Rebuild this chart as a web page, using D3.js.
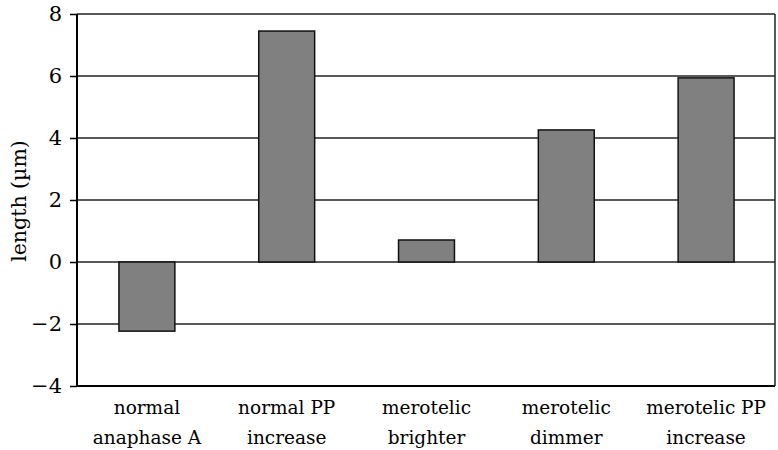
<!DOCTYPE html>
<html><head><meta charset="utf-8">
<script src="https://cdn.jsdelivr.net/npm/d3@7"></script>
<style>body{margin:0;background:#fff}svg{display:block}</style>
</head><body>
<script>
const categories = [["normal","anaphase A"],["normal PP","increase"],["merotelic","brighter"],["merotelic","dimmer"],["merotelic PP","increase"]];
const values = [-2.23, 7.45, 0.71, 4.26, 5.94];
const yTicks = [-4,-2,0,2,4,6,8];
const yLabel = "length (\u00b5m)";

const W = 778, H = 450;
const m = {left: 77, right: 2, top: 14, bottom: 64};
const font = "DejaVu Serif";
const svg = d3.select("body").append("svg").attr("width", W).attr("height", H)
  .attr("font-family", font);

const x = d3.scaleBand().domain(d3.range(categories.length)).range([m.left, W - m.right]).paddingInner(0.6).paddingOuter(0.3);
const y = d3.scaleLinear().domain([-4, 8]).range([H - m.bottom, m.top]);

svg.append("g").selectAll("line").data(yTicks.filter(t => t !== -4)).join("line")
  .attr("x1", m.left).attr("x2", W - m.right - 1)
  .attr("y1", d => y(d)).attr("y2", d => y(d))
  .attr("stroke", "#222").attr("stroke-width", 1.5);

svg.append("line").attr("x1", W - m.right - 1).attr("x2", W - m.right - 1)
  .attr("y1", y(8)).attr("y2", y(-4)).attr("stroke", "#222").attr("stroke-width", 1.5);

svg.append("g").selectAll("rect").data(values).join("rect")
  .attr("x", (d, i) => x(i))
  .attr("width", x.bandwidth())
  .attr("y", d => y(Math.max(0, d)))
  .attr("height", d => Math.abs(y(d) - y(0)))
  .attr("fill", "#808080").attr("stroke", "#111").attr("stroke-width", 1.5);

const yAxis = d3.axisLeft(y).tickValues(yTicks).tickSize(7).tickPadding(8)
  .tickFormat(d => d < 0 ? "\u2212" + Math.abs(d) : String(d));
const gy = svg.append("g").attr("transform", `translate(${m.left},0)`).call(yAxis)
  .attr("font-family", font).attr("font-size", 21);
gy.select(".domain").attr("stroke", "#000").attr("stroke-width", 2).attr("d", `M0,${y(8)}V${y(-4)}`);
gy.selectAll(".tick line").attr("stroke", "#000").attr("stroke-width", 1.5);
gy.selectAll("text").attr("fill", "#000");

svg.append("line").attr("x1", m.left).attr("x2", W - m.right - 1)
  .attr("y1", y(-4)).attr("y2", y(-4)).attr("stroke", "#000").attr("stroke-width", 2);

const xl = svg.append("g").attr("font-family", font).attr("font-size", 18.5)
  .selectAll("text").data(categories).join("text")
  .attr("fill", "#000")
  .attr("text-anchor", "middle")
  .attr("transform", (d, i) => `translate(${x(i) + x.bandwidth() / 2},0)`);
xl.selectAll("tspan").data(d => d).join("tspan")
  .attr("x", 0).attr("y", (d, j) => 414 + j * 30).text(d => d);

svg.append("text").attr("transform", `translate(26,${(y(8) + y(-4)) / 2 + 1}) rotate(-90)`)
  .attr("text-anchor", "middle").attr("font-family", font).attr("font-size", 20.5)
  .attr("fill", "#000").text(yLabel);
</script>
</body></html>
